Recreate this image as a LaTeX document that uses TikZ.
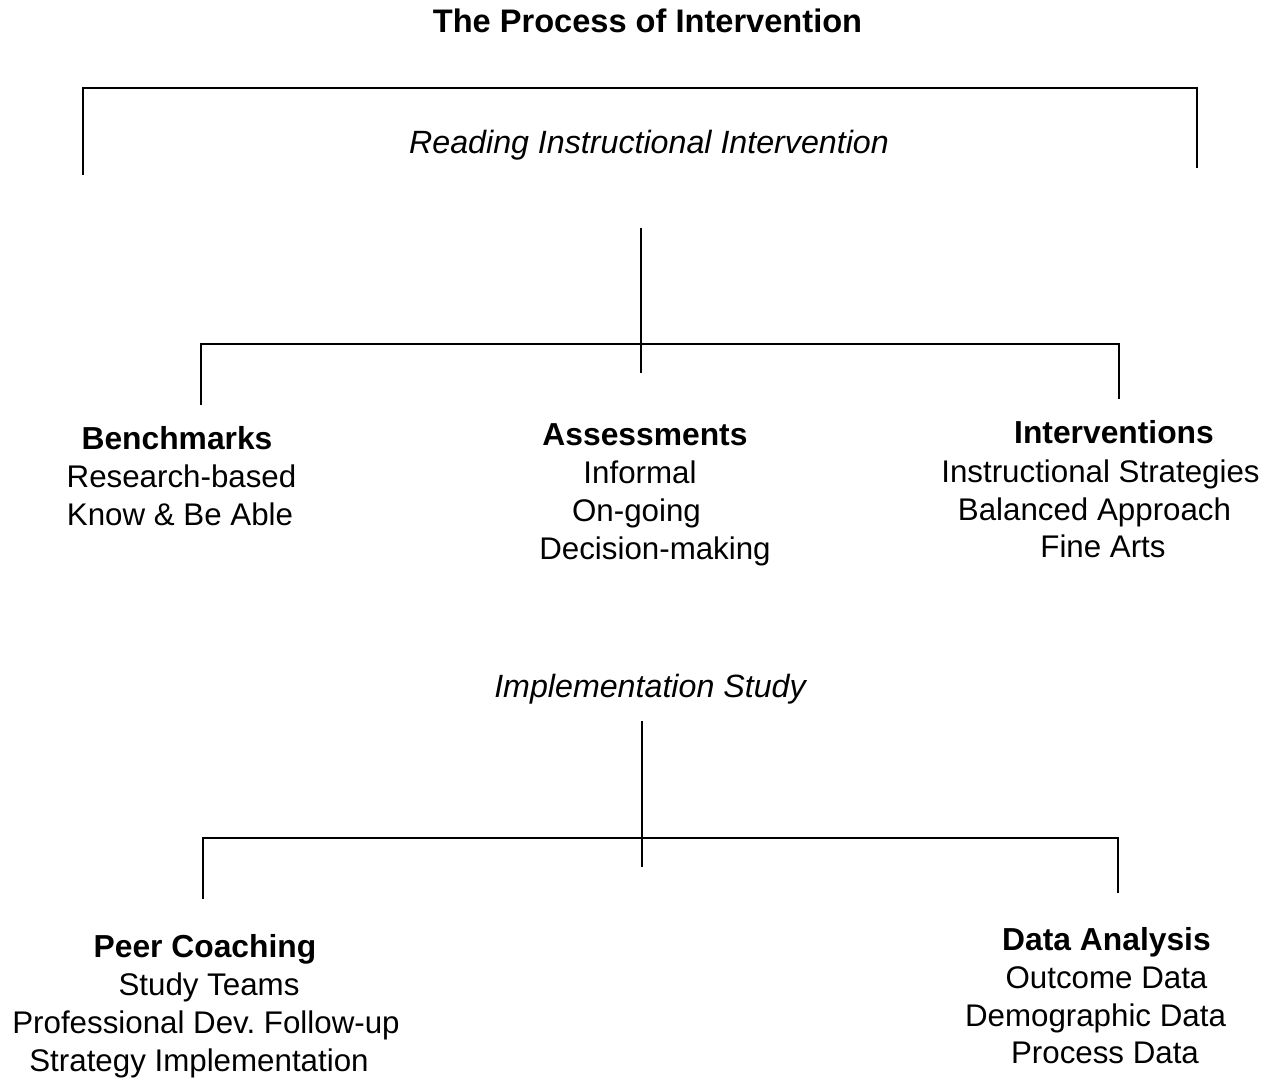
\documentclass[tikz,border=0pt]{standalone}
\usepackage{fontspec}
\setmainfont{Liberation Sans}
\frenchspacing
\begin{document}
\begin{tikzpicture}[x=1pt,y=-1pt,
  txt/.style={inner sep=0pt,anchor=base,font=\fontsize{31.3}{38}\selectfont},
  hd/.style={txt,font=\fontsize{31.8}{38}\selectfont\bfseries},
  it/.style={txt,font=\fontsize{32.2}{38}\selectfont\itshape},
  ln/.style={line width=1.6pt,line cap=rect}]
\useasboundingbox[fill=white] (0,0) rectangle (1275,1080);
% titles
\node[hd,font=\fontsize{32.6}{38}\selectfont\bfseries] (title) at (647.5,32) {The Process of Intervention};
\node[it] (rii) at (649,153) {Reading Instructional Intervention};
\node[it] (imp) at (650,697) {Implementation Study};
% upper group
\node[hd] (bench) at (177,449) {Benchmarks};
\node[txt] (b1) at (181.5,487) {Research-based};
\node[txt] (b2) at (180,525) {Know \& Be Able};
\node[hd] (assess) at (645,445) {Assessments};
\node[txt] (a1) at (640,483) {Informal};
\node[txt] (a2) at (636.5,521) {On-going};
\node[txt] (a3) at (655,559) {Decision-making};
\node[hd] (interv) at (1114,443) {Interventions};
\node[txt] (i1) at (1100.5,482) {Instructional Strategies};
\node[txt] (i2) at (1094.5,520) {Balanced Approach};
\node[txt] (i3) at (1103,557) {Fine Arts};
% lower group
\node[hd] (peer) at (205,957) {Peer Coaching};
\node[txt] (p1) at (209,995) {Study Teams};
\node[txt] (p2) at (206,1033) {Professional Dev. Follow-up};
\node[txt] (p3) at (199,1071) {Strategy Implementation};
\node[hd] (data) at (1106.5,950) {Data Analysis};
\node[txt] (d1) at (1106.5,988) {Outcome Data};
\node[txt] (d2) at (1095.5,1026) {Demographic Data};
\node[txt] (d3) at (1105,1063) {Process Data};
% coordinates of connectors
\coordinate (tbL) at (83,174);
\coordinate (tbLt) at (83,88);
\coordinate (tbRt) at (1197,88);
\coordinate (tbR) at (1197,167);
\coordinate (uTop) at (641,229);
\coordinate (uBot) at (641,372);
\coordinate (uL) at (201,344);
\coordinate (uR) at (1119,344);
\coordinate (uLd) at (201,404);
\coordinate (uRd) at (1119,398);
\coordinate (lTop) at (642,722);
\coordinate (lBot) at (642,866);
\coordinate (lL) at (203,838);
\coordinate (lR) at (1118,838);
\coordinate (lLd) at (203,898);
\coordinate (lRd) at (1118,892);
% connectors
\draw[ln] (tbL) -- (tbLt) -- (tbRt) -- (tbR);
\draw[ln] (uTop) -- (uBot);
\draw[ln] (uLd) -- (uL) -- (uR) -- (uRd);
\draw[ln] (lTop) -- (lBot);
\draw[ln] (lLd) -- (lL) -- (lR) -- (lRd);
\end{tikzpicture}
\end{document}
